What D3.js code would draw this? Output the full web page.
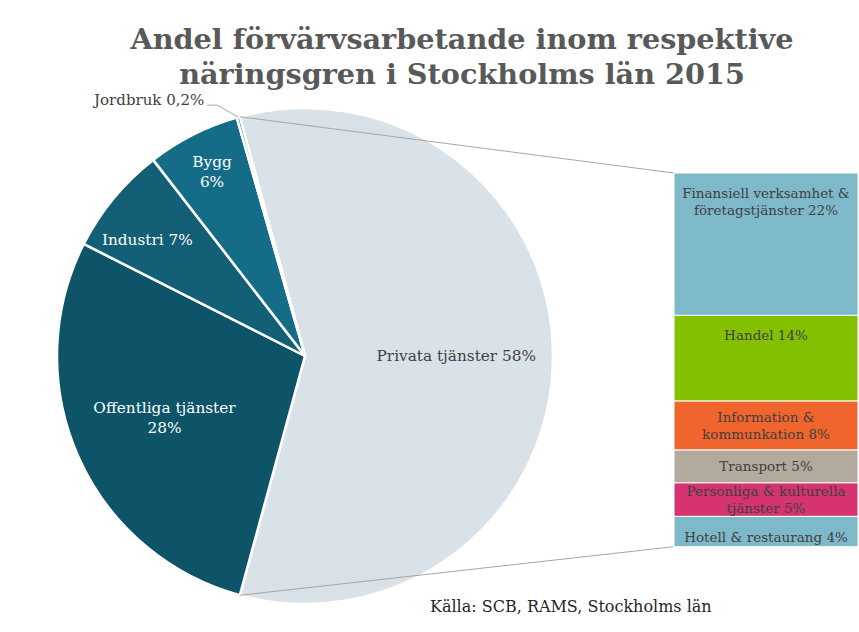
<!DOCTYPE html>
<html>
<head>
<meta charset="utf-8">
<script src="https://cdn.jsdelivr.net/npm/d3@7/dist/d3.min.js"></script>
<style>
  html, body { margin: 0; padding: 0; background: #fff; }
  svg { display: block; }
</style>
</head>
<body>
<svg id="chart" width="859" height="632"></svg>
<script>
// ---- data ----
const titleLines = ["Andel förvärvsarbetande inom respektive", "näringsgren i Stockholms län 2015"];
const pieLabels = ["Privata tjänster", "Offentliga tjänster", "Industri", "Bygg", "Jordbruk"];
const pieValues = [58, 28, 7, 6, 0.2];
const pieValueText = ["58%", "28%", "7%", "6%", "0,2%"];
const barLabels = ["Finansiell verksamhet & företagstjänster", "Handel", "Information & kommunkation", "Transport", "Personliga & kulturella tjänster", "Hotell & restaurang"];
const barValues = [22.1, 13.3, 7.6, 5.1, 5.2, 4.7];
const barValueText = ["22%", "14%", "8%", "5%", "5%", "4%"];
const sourceText = "Källa: SCB, RAMS, Stockholms län";

// ---- styles ----
const pieColors = ["#d9e2e8", "#0e5468", "#135f76", "#156c86", "#3a8aa3"];
const barColors = ["#7eb9ca", "#82c000", "#f0652d", "#b2aa9d", "#d53470", "#7eb9ca"];
const serif = "Georgia, 'DejaVu Serif', serif";

const svg = d3.select("#chart");

// Title
svg.append("g").selectAll("text").data(titleLines).join("text")
  .attr("x", 462).attr("y", (d, i) => 49 + i * 35)
  .attr("text-anchor", "middle")
  .attr("font-family", serif).attr("font-weight", "bold")
  .attr("font-size", 28.7).attr("fill", "#595959")
  .text(d => d);

// Pie
const cx = 305, cy = 356, R = 248;
const total = d3.sum(pieValues);
const privAngle = pieValues[0] / total * 2 * Math.PI;
const pie = d3.pie().sort(null).value(d => d)
  .startAngle(Math.PI / 2 - privAngle / 2)
  .endAngle(Math.PI / 2 - privAngle / 2 + 2 * Math.PI);
const arcs = pie(pieValues);
const arc = d3.arc().innerRadius(0).outerRadius(R);
const gPie = svg.append("g").attr("transform", `translate(${cx},${cy})`);

gPie.selectAll("path").data(arcs).join("path")
  .attr("d", arc)
  .attr("fill", (d, i) => pieColors[i])
  .attr("stroke", "#fff").attr("stroke-width", 2.5).attr("stroke-linejoin", "round");

// Connector lines (pie-of-bar)
const barX0 = 674, barX1 = 858, barY0 = 173, barY1 = 546.7;
const yBar = d3.scaleLinear().domain([0, d3.sum(barValues)]).range([barY0, barY1]);
const pTop = [cx + R * Math.sin(arcs[0].startAngle), cy - R * Math.cos(arcs[0].startAngle)];
const pBot = [cx + R * Math.sin(arcs[0].endAngle), cy - R * Math.cos(arcs[0].endAngle)];
svg.append("line").attr("x1", pTop[0]).attr("y1", pTop[1]).attr("x2", barX0).attr("y2", yBar(0))
  .attr("stroke", "#a6a6a6").attr("stroke-width", 1);
svg.append("line").attr("x1", pBot[0]).attr("y1", pBot[1]).attr("x2", barX0).attr("y2", yBar(d3.sum(barValues)))
  .attr("stroke", "#a6a6a6").attr("stroke-width", 1);

// Pie labels
const labelR = [0.61, 0.62, 0.79, 0.83];
const labelShift = [0, 0, -0.055, 0];
const pieLabelLines = [
  [pieLabels[0] + " " + pieValueText[0]],
  [pieLabels[1], pieValueText[1]],
  [pieLabels[2] + " " + pieValueText[2]],
  [pieLabels[3], pieValueText[3]]
];
const pieLabelColor = ["#404040", "#fff", "#fff", "#fff"];
pieLabelLines.forEach((lines, i) => {
  const a = (arcs[i].startAngle + arcs[i].endAngle) / 2 + labelShift[i];
  const rr = R * labelR[i];
  const x = Math.sin(a) * rr, y = -Math.cos(a) * rr;
  const lh = 20;
  const t = gPie.append("text")
    .attr("text-anchor", "middle")
    .attr("font-family", serif).attr("font-size", 15.3)
    .attr("fill", pieLabelColor[i]);
  lines.forEach((ln, j) => {
    t.append("tspan").attr("x", x)
      .attr("y", y + (j - (lines.length - 1) / 2) * lh + 5)
      .text(ln);
  });
});

// Jordbruk outside label with leader
{
  const a = (arcs[4].startAngle + arcs[4].endAngle) / 2;
  const ex = cx + Math.sin(a) * R, ey = cy - Math.cos(a) * R;
  svg.append("polyline")
    .attr("points", `${ex},${ey} ${ex - 21},${ey - 12} ${ex - 31},${ey - 12}`)
    .attr("fill", "none").attr("stroke", "#a6a6a6").attr("stroke-width", 1);
  svg.append("text").attr("x", ex - 34).attr("y", ey - 12)
    .attr("text-anchor", "end")
    .attr("font-family", serif).attr("font-size", 15).attr("fill", "#404040")
    .text(pieLabels[4] + " " + pieValueText[4]);
}

// Bar
let cum = 0;
const barData = barValues.map((v, i) => { const d = { v, i, y0: cum, y1: cum + v }; cum += v; return d; });
svg.append("g").selectAll("rect").data(barData).join("rect")
  .attr("x", barX0).attr("width", barX1 - barX0)
  .attr("y", d => yBar(d.y0)).attr("height", d => yBar(d.y1) - yBar(d.y0))
  .attr("fill", d => barColors[d.i])
  .attr("stroke", "#fff").attr("stroke-width", 1);

const barLabelLines = [
  ["Finansiell verksamhet &", "företagstjänster " + barValueText[0]],
  [barLabels[1] + " " + barValueText[1]],
  ["Information &", "kommunkation " + barValueText[2]],
  [barLabels[3] + " " + barValueText[3]],
  ["Personliga & kulturella", "tjänster " + barValueText[4]],
  [barLabels[5] + " " + barValueText[5]]
];
// vertical anchor: top-aligned for tall segments, centered for small ones
const barLabelMode = ["top", "top", "center", "center", "center", "center"];
const barLabelNudge = [0, 0, 0, 0, 0, 5];
const bxc = (barX0 + barX1) / 2;
barData.forEach((d, i) => {
  const lines = barLabelLines[i];
  const lh = 17;
  const t = svg.append("text").attr("text-anchor", "middle")
    .attr("font-family", serif).attr("font-size", 13.5).attr("fill", "#404040");
  lines.forEach((ln, j) => {
    let y;
    if (barLabelMode[i] === "top") y = yBar(d.y0) + 25 + j * lh;
    else y = (yBar(d.y0) + yBar(d.y1)) / 2 + (j - (lines.length - 1) / 2) * lh + 5 + barLabelNudge[i];
    t.append("tspan").attr("x", bxc).attr("y", y).text(ln);
  });
});

// Source
svg.append("text").attr("x", 430).attr("y", 612)
  .attr("font-family", serif).attr("font-size", 16).attr("fill", "#262626")
  .text(sourceText);
</script>
</body>
</html>
